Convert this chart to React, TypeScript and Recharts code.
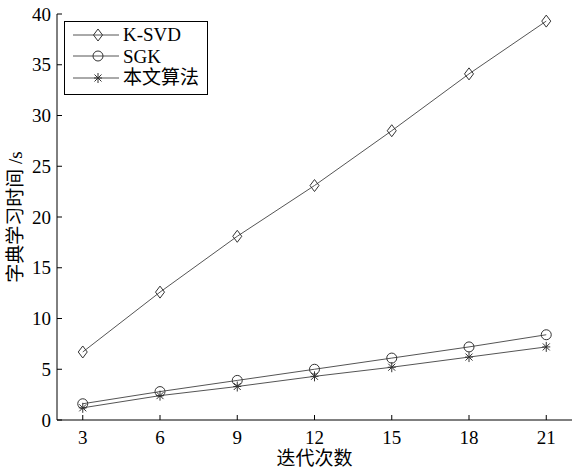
import React from "react"
import { LineChart, Line, XAxis, YAxis, Legend } from "recharts"

const iterations = [3, 6, 9, 12, 15, 18, 21]
const ksvdTime = [6.7, 12.6, 18.1, 23.1, 28.5, 34.1, 39.3]
const sgkTime = [1.6, 2.8, 3.9, 5.0, 6.1, 7.2, 8.4]
const oursTime = [1.2, 2.4, 3.3, 4.3, 5.2, 6.2, 7.2]

const xTicks = [3, 6, 9, 12, 15, 18, 21]
const yTicks = [0, 5, 10, 15, 20, 25, 30, 35, 40]

const data = iterations.map((it, i) => ({
  it,
  ksvd: ksvdTime[i],
  sgk: sgkTime[i],
  ours: oursTime[i],
}))

const FONT = '"Liberation Serif", "Noto Sans CJK SC", serif'
const LINE = "#555"
const MARK = "#333"

const Diamond = ({ cx, cy }: { cx: number; cy: number }) => (
  <path
    d={`M${cx} ${cy - 6}L${cx + 4.5} ${cy}L${cx} ${cy + 6}L${cx - 4.5} ${cy}Z`}
    fill="none"
    stroke={MARK}
  />
)

const Ring = ({ cx, cy }: { cx: number; cy: number }) => (
  <circle cx={cx} cy={cy} r={5} fill="none" stroke={MARK} />
)

const Star = ({ cx, cy }: { cx: number; cy: number }) => (
  <g stroke={MARK}>
    <line x1={cx} y1={cy - 5} x2={cx} y2={cy + 5} />
    <line x1={cx - 4} y1={cy} x2={cx + 4} y2={cy} />
    <line x1={cx - 3.5} y1={cy - 3.5} x2={cx + 3.5} y2={cy + 3.5} />
    <line x1={cx - 3.5} y1={cy + 3.5} x2={cx + 3.5} y2={cy - 3.5} />
  </g>
)

const series = [
  { key: "ksvd", name: "K-SVD", Marker: Diamond },
  { key: "sgk", name: "SGK", Marker: Ring },
  { key: "ours", name: "本文算法", Marker: Star },
]

// matlab-style inward ticks
const BottomTick = ({ x, y, payload }: any) => (
  <g>
    <line x1={x} y1={y} x2={x} y2={y - 5} stroke="#000" />
    <text x={x} y={y + 24} textAnchor="middle" fontSize={19} fontFamily={FONT} fill="#000">
      {payload.value}
    </text>
  </g>
)

const TopTick = ({ x, y }: any) => <line x1={x} y1={y} x2={x} y2={y + 5} stroke="#000" />

const LeftTick = ({ x, y, payload }: any) => (
  <g>
    <line x1={x} y1={y} x2={x + 5} y2={y} stroke="#000" />
    <text x={x - 6} y={y + 6.5} textAnchor="end" fontSize={19} fontFamily={FONT} fill="#000">
      {payload.value}
    </text>
  </g>
)

const RightTick = ({ x, y }: any) => <line x1={x} y1={y} x2={x - 5} y2={y} stroke="#000" />

const renderLegend = () => (
  <div
    style={{
      border: "1px solid #000",
      background: "#fff",
      width: 142,
      height: 70,
      boxSizing: "content-box",
      paddingTop: 2,
      fontFamily: FONT,
      fontSize: 19,
      lineHeight: "21.5px",
    }}
  >
    {series.map(({ key, name, Marker }) => (
      <div key={key} style={{ display: "flex", alignItems: "center", height: 21.5 }}>
        <svg width={58} height={20} style={{ flex: "none" }}>
          <line x1={8} y1={10} x2={54} y2={10} stroke={LINE} />
          <Marker cx={33} cy={10} />
        </svg>
        <span>{name}</span>
      </div>
    ))}
  </div>
)

export default function App() {
  return (
    <div style={{ position: "absolute", left: 0, top: 0, background: "#fff" }}>
      <LineChart width={573} height={468} data={data} margin={{ top: 14, right: 1, bottom: 0, left: 0 }}>
        <XAxis
          dataKey="it"
          type="number"
          domain={[2, 22]}
          ticks={xTicks}
          interval={0}
          height={48}
          tickSize={0}
          tickMargin={0}
          tickLine={false}
          tick={<BottomTick />}
          axisLine={{ stroke: "#000" }}
          label={{ value: "迭代次数", position: "insideBottom", offset: 3, fontSize: 19, fontFamily: FONT, fill: "#000" }}
        />
        <XAxis
          xAxisId="top"
          orientation="top"
          type="number"
          domain={[2, 22]}
          ticks={xTicks}
          interval={0}
          height={0}
          tickSize={0}
          tickMargin={0}
          tickLine={false}
          tick={<TopTick />}
          axisLine={{ stroke: "#000" }}
        />
        <YAxis
          type="number"
          domain={[0, 40]}
          ticks={yTicks}
          interval={0}
          width={57}
          tickSize={0}
          tickMargin={0}
          tickLine={false}
          tick={<LeftTick />}
          axisLine={{ stroke: "#000" }}
          label={{
            value: "字典学习时间 /s",
            angle: -90,
            position: "insideLeft",
            offset: 15,
            fontSize: 19,
            fontFamily: FONT,
            fill: "#000",
            style: { textAnchor: "middle" },
          }}
        />
        <YAxis
          yAxisId="right"
          orientation="right"
          type="number"
          domain={[0, 40]}
          ticks={yTicks}
          interval={0}
          width={0}
          tickSize={0}
          tickMargin={0}
          tickLine={false}
          tick={<RightTick />}
          axisLine={{ stroke: "#000" }}
        />
        {series.map(({ key, name, Marker }) => (
          <Line
            key={key}
            dataKey={key}
            name={name}
            stroke={LINE}
            strokeWidth={1}
            isAnimationActive={false}
            dot={(p: any) => <Marker key={`${key}-${p.index}`} cx={p.cx} cy={p.cy} />}
            activeDot={false}
          />
        ))}
        <Legend
          layout="vertical"
          align="center"
          verticalAlign="middle"
          content={renderLegend}
          wrapperStyle={{ left: 64, top: 21, width: 144, height: 74 }}
        />
      </LineChart>
    </div>
  )
}
